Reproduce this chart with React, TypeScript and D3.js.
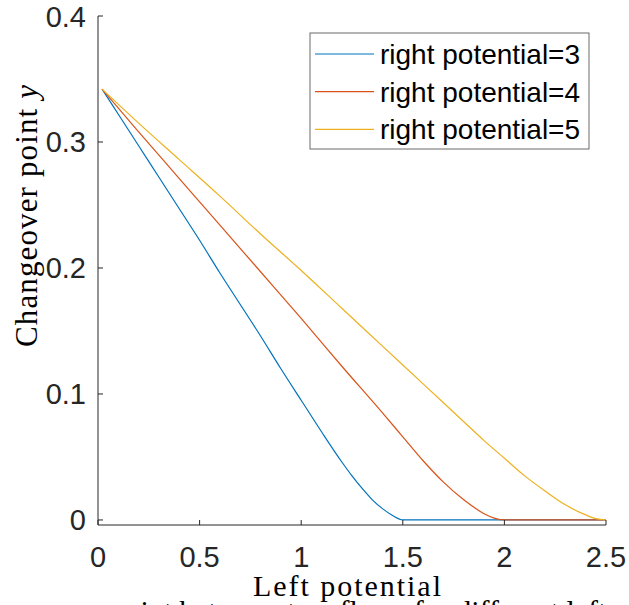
import React from "react";
import * as d3 from "d3";

// Left potential (x) samples and changeover point (y) for each right potential
const leftPotential3 = [0.02, 0.1, 0.2, 0.3, 0.4, 0.5, 0.6, 0.7, 0.8, 0.9, 1.0, 1.1, 1.2, 1.25, 1.3, 1.35, 1.4, 1.45, 1.5, 2.0, 2.5];
const changeover3 = [0.342, 0.322, 0.297, 0.272, 0.247, 0.222, 0.196, 0.171, 0.146, 0.120, 0.095, 0.070, 0.046, 0.035, 0.025, 0.016, 0.009, 0.0035, 0.0, 0.0, 0.0];

const leftPotential4 = [0.02, 0.2, 0.4, 0.6, 0.8, 1.0, 1.2, 1.4, 1.5, 1.6, 1.7, 1.8, 1.9, 1.95, 2.0, 2.5];
const changeover4 = [0.342, 0.308, 0.271, 0.234, 0.197, 0.160, 0.122, 0.085, 0.066, 0.047, 0.030, 0.016, 0.005, 0.0015, 0.0, 0.0];

const leftPotential5 = [0.02, 0.2, 0.4, 0.6, 0.8, 1.0, 1.2, 1.4, 1.6, 1.8, 1.9, 2.0, 2.1, 2.2, 2.3, 2.4, 2.45, 2.5];
const changeover5 = [0.342, 0.315, 0.286, 0.257, 0.227, 0.198, 0.168, 0.138, 0.108, 0.078, 0.063, 0.049, 0.035, 0.023, 0.012, 0.004, 0.001, 0.0];

const seriesNames = ["right potential=3", "right potential=4", "right potential=5"];
const seriesColors = ["#0072BD", "#D95319", "#EDB120"];

const xTicks = [0, 0.5, 1, 1.5, 2, 2.5];
const yTicks = [0, 0.1, 0.2, 0.3, 0.4];

const W = 629;
const H = 605;
const axisColor = "#262626";
const sansFont = "Liberation Sans, Arial, Helvetica, sans-serif";
const serifFont = "Liberation Serif, Times New Roman, serif";

export default function App() {
  const x = d3.scaleLinear().domain([0, 2.5]).range([98, 606]);
  const y = d3.scaleLinear().domain([-0.004, 0.4]).range([525, 16]);

  const series = [
    { name: seriesNames[0], color: seriesColors[0], xs: leftPotential3, ys: changeover3 },
    { name: seriesNames[1], color: seriesColors[1], xs: leftPotential4, ys: changeover4 },
    { name: seriesNames[2], color: seriesColors[2], xs: leftPotential5, ys: changeover5 },
  ];

  const line = d3
    .line<[number, number]>()
    .x((d) => x(d[0]))
    .y((d) => y(d[1]))
    .curve(d3.curveMonotoneX);

  const [x0, x1] = x.range();
  const [yBottom, yTop] = y.range();
  const tickLen = 5;

  const legendX = 310;
  const legendY = 33;
  const legendW = 279;
  const legendH = 116;
  const rowGap = 37.7;

  return (
    <svg
      width={W}
      height={H}
      style={{ position: "absolute", left: 0, top: 0, background: "#fff" }}
    >
      <rect x={0} y={0} width={W} height={H} fill="#fff" />

      {/* curves */}
      {series.map((s) => (
        <path
          key={s.name}
          d={line(s.xs.map((v, i) => [v, s.ys[i]] as [number, number])) || ""}
          fill="none"
          stroke={s.color}
          strokeWidth={1.2}
        />
      ))}

      {/* axes */}
      <line x1={x0} y1={yBottom} x2={x1} y2={yBottom} stroke={axisColor} strokeWidth={1} />
      <line x1={x0} y1={yBottom} x2={x0} y2={yTop} stroke={axisColor} strokeWidth={1} />

      {xTicks.map((t) => (
        <g key={"xt" + t}>
          <line x1={x(t)} x2={x(t)} y1={yBottom} y2={yBottom - tickLen} stroke={axisColor} strokeWidth={1} />
          <text
            x={x(t)}
            y={567}
            textAnchor="middle"
            fontFamily={sansFont}
            fontSize={29}
            fill={axisColor}
          >
            {String(t)}
          </text>
        </g>
      ))}

      {yTicks.map((t) => (
        <g key={"yt" + t}>
          <line x1={x0} x2={x0 + tickLen} y1={y(t)} y2={y(t)} stroke={axisColor} strokeWidth={1} />
          <text
            x={86}
            y={y(t) + 10.5}
            textAnchor="end"
            fontFamily={sansFont}
            fontSize={29}
            fill={axisColor}
          >
            {String(t)}
          </text>
        </g>
      ))}

      {/* axis labels */}
      <text
        x={347}
        y={596}
        textAnchor="middle"
        fontFamily={serifFont}
        fontSize={30}
        fill="#000"
        textLength={188}
        lengthAdjust="spacing"
      >
        Left potential
      </text>
      <text
        transform={`translate(37, 216) rotate(-90)`}
        textAnchor="middle"
        fontFamily={serifFont}
        fontSize={31}
        fill="#000"
        textLength={262}
        lengthAdjust="spacing"
      >
        Changeover point <tspan fontStyle="italic">y</tspan>
      </text>

      {/* caption below the axes, running past the bottom edge */}
      <text
        x={-42}
        y={621}
        textAnchor="start"
        fontFamily={serifFont}
        fontSize={30}
        fill="#000"
      >
        Changeover point between two flows for different left potentials
      </text>

      {/* legend */}
      <rect
        x={legendX}
        y={legendY}
        width={legendW}
        height={legendH}
        fill="#fff"
        stroke="#6b6b6b"
        strokeWidth={1}
      />
      {series.map((s, i) => {
        const ry = legendY + 21 + i * rowGap;
        return (
          <g key={"lg" + s.name}>
            <line x1={315} x2={374} y1={ry} y2={ry} stroke={s.color} strokeWidth={1.2} />
            <text
              x={380}
              y={ry + 10}
              fontFamily={sansFont}
              fontSize={28}
              fill="#000"
            >
              {s.name}
            </text>
          </g>
        );
      })}
    </svg>
  );
}
